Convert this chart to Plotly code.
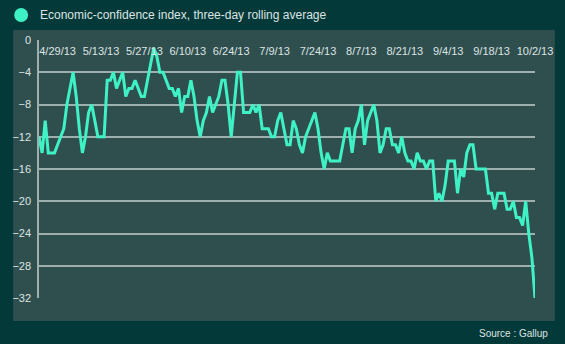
import plotly.graph_objects as go

values = [-12, -14, -10, -14, -14, -14, -13, -12, -11, -8, -6, -4, -7, -11, -14, -12, -9, -8, -10, -12,
          -12, -12, -5, -5, -4, -6, -5, -4, -7, -6, -6, -5, -6, -7, -7, -5, -3, -1, -2, -4,
          -4, -5, -6, -6, -7, -6, -9, -7, -7, -5, -7, -10, -12, -10, -9, -7, -9, -8, -7, -5,
          -5, -8, -12, -8, -4, -4, -9, -9, -9, -8, -9, -8, -11, -11, -11, -12, -12, -10, -9, -11,
          -13, -13, -10, -11, -13, -14, -12, -11, -10, -9, -11, -14, -16, -14, -15, -15, -15, -15, -13, -11,
          -11, -14, -11, -10, -8, -13, -10, -9, -8, -10, -14, -13, -11, -11, -13, -13, -14, -12, -14, -15,
          -15, -16, -14, -15, -15, -16, -15, -15, -20, -19, -20, -18, -15, -15, -15, -19, -16, -17, -14, -13,
          -13, -16, -16, -16, -16, -19, -19, -21, -19, -19, -19, -21, -21, -20, -22, -22, -23, -20, -24, -27,
          -32]
x_index = list(range(len(values)))
tick_positions = [6, 20, 34, 48, 62, 76, 90, 104, 118, 132, 146, 160]
tick_labels = ["4/29/13", "5/13/13", "5/27/13", "6/10/13", "6/24/13", "7/9/13", "7/24/13",
               "8/7/13", "8/21/13", "9/4/13", "9/18/13", "10/2/13"]
y_ticks = [0, -4, -8, -12, -16, -20, -24, -28, -32]

W, H = 565, 344
L, R, T, B = 37, 28, 40, 46
pw, ph = W - L - R, H - T - B

def px(xp):
    return (xp - L) / pw

def py(yp):
    return (H - B - yp) / ph

LINE = "#3ff2c6"
GRID = "#9db0ae"
TXT = "#dde3e2"
BG = "#043939"
PANEL = "#2f4f4f"
FONT = "Liberation Sans, Arial"

fig = go.Figure()
fig.add_trace(go.Scatter(x=x_index, y=values, mode="lines",
                         line=dict(color=LINE, width=3), hoverinfo="skip",
                         showlegend=False))

fig.update_layout(
    width=W, height=H,
    margin=dict(l=L, r=R, t=T, b=B),
    paper_bgcolor=BG, plot_bgcolor=PANEL,
    font=dict(family=FONT, size=11, color=TXT),
    xaxis=dict(range=[0, len(values) - 1], side="bottom", anchor="free", position=py(43),
               tickvals=tick_positions, ticktext=tick_labels,
               showgrid=False, zeroline=False, showline=False, ticks="",
               tickfont=dict(family=FONT, size=11, color=TXT)),
    yaxis=dict(range=[-32, 0], tickvals=y_ticks, showgrid=True, gridcolor=GRID, gridwidth=1.5,
               zeroline=False, showline=True, linecolor=GRID, linewidth=1.5, ticks="",
               ticklabelstandoff=4, tickfont=dict(family=FONT, size=11, color=TXT)),
    shapes=[
        dict(type="rect", xref="paper", yref="paper", x0=px(11), x1=px(557), y0=py(321), y1=py(30),
             fillcolor=PANEL, line=dict(width=0), layer="below"),
        dict(type="circle", xref="paper", yref="paper", x0=px(12), x1=px(26), y0=py(22), y1=py(8),
             fillcolor=LINE, line=dict(width=0)),
    ],
    annotations=[
        dict(text="Economic-confidence index, three-day rolling average", xref="paper", yref="paper",
             x=px(36), y=py(15), xanchor="left", yanchor="middle", showarrow=False,
             font=dict(family=FONT, size=12, color=TXT)),
        dict(text="Source : Gallup", xref="paper", yref="paper",
             x=px(552), y=py(333), xanchor="right", yanchor="middle", showarrow=False,
             font=dict(family=FONT, size=10, color=TXT)),
    ],
)

fig.write_html("out.html")
